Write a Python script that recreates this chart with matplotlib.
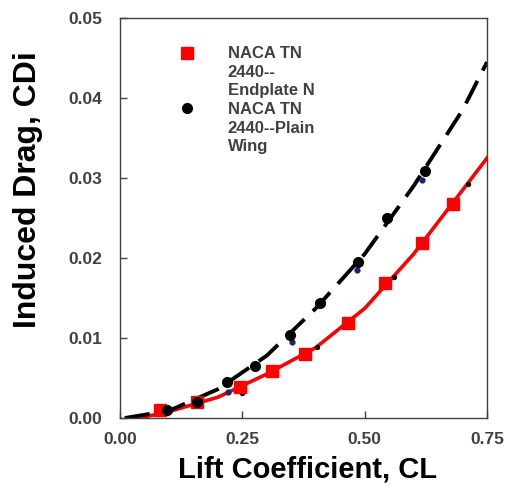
"""Induced drag vs lift coefficient, NACA TN 2440 endplate vs plain wing."""
import matplotlib
matplotlib.use("Agg")
import matplotlib.pyplot as plt

plt.rcParams["font.family"] = ["Liberation Sans", "DejaVu Sans"]

endplate_cl = [0.082, 0.157, 0.245, 0.311, 0.378, 0.466, 0.542, 0.618, 0.681]
endplate_cdi = [0.0010, 0.0020, 0.0039, 0.0059, 0.0080, 0.0119, 0.0169, 0.0219, 0.0268]

plain_cl = [0.096, 0.157, 0.219, 0.276, 0.348, 0.409, 0.487, 0.546, 0.624]
plain_cdi = [0.0010, 0.0020, 0.0045, 0.0065, 0.0104, 0.0144, 0.0195, 0.0250, 0.0309]

# fitted curves
endplate_fit_cl = [0.04, 0.10, 0.20, 0.30, 0.40, 0.50, 0.60, 0.70, 0.75]
endplate_fit_cdi = [0.0, 0.0008, 0.0026, 0.0055, 0.0088, 0.0137, 0.0205, 0.0285, 0.0325]

plain_fit_cl = [0.01, 0.10, 0.20, 0.30, 0.40, 0.50, 0.60, 0.70, 0.75]
plain_fit_cdi = [0.0, 0.0009, 0.0036, 0.0078, 0.0137, 0.0205, 0.0290, 0.0385, 0.0445]

# small stray points
blue_cl = [0.221, 0.351, 0.484, 0.617]
blue_cdi = [0.0033, 0.0095, 0.0185, 0.0298]
tick_cl = [0.249, 0.402, 0.559, 0.712]
tick_cdi = [0.0031, 0.0089, 0.0176, 0.0293]

x_ticks = [0.0, 0.25, 0.5, 0.75]
y_ticks = [0.0, 0.01, 0.02, 0.03, 0.04, 0.05]

legend_labels = ["NACA TN\n2440--\nEndplate N", "NACA TN\n2440--Plain\nWing"]

fig = plt.figure(figsize=(5.06, 4.88), dpi=100)
ax = fig.add_axes([0.237, 0.1434, 0.7255, 0.8196])

ax.plot(endplate_fit_cl, endplate_fit_cdi, color="#ff0000", lw=2.6, zorder=2)
ax.plot(plain_fit_cl, plain_fit_cdi, color="black", lw=2.8,
        dashes=(6.5, 3), zorder=2)
ax.scatter(tick_cl, tick_cdi, s=8, color="black", zorder=3)
ax.scatter(blue_cl, blue_cdi, s=12, color="#1a237e", zorder=3)
ax.plot(endplate_cl, endplate_cdi, "s", color="#ff0000", ms=8, ls="none", zorder=4)
ax.plot(plain_cl, plain_cdi, "o", color="black", ms=7, ls="none", zorder=4)

# hand-laid legend: marker next to the first line of each label
ax.plot([0.1826], [0.9125], "s", color="#ff0000", ms=8, transform=ax.transAxes)
ax.plot([0.1826], [0.775], "o", color="black", ms=7, transform=ax.transAxes)
ax.text(0.294, 0.93, legend_labels[0], transform=ax.transAxes, va="top",
        ha="left", fontsize=12, fontweight="bold", color="#404040",
        linespacing=1.3)
ax.text(0.294, 0.79, legend_labels[1], transform=ax.transAxes, va="top",
        ha="left", fontsize=12, fontweight="bold", color="#404040",
        linespacing=1.3)

ax.set_xlim(0, 0.75)
ax.set_ylim(0, 0.05)
ax.set_xticks(x_ticks)
ax.set_yticks(y_ticks)
ax.set_xticklabels([f"{v:.2f}" for v in x_ticks])
ax.set_yticklabels([f"{v:.2f}" for v in y_ticks])
ax.tick_params(direction="in", length=5, width=1, color="#404040",
               labelsize=12.5, labelcolor="#404040", pad=13)
ax.tick_params(axis="x", pad=10)
for lab in ax.get_xticklabels() + ax.get_yticklabels():
    lab.set_fontweight("bold")
for sp in ax.spines.values():
    sp.set_color("#404040")
    sp.set_linewidth(1)

ax.set_xlabel("Lift Coefficient, CL", fontsize=21, fontweight="bold")
ax.set_ylabel("Induced Drag, CDi", fontsize=23, fontweight="bold")
ax.xaxis.set_label_coords(0.51, -0.0925)
ax.yaxis.set_label_coords(-0.21, 0.57)

fig.savefig("out.png", dpi=100)
